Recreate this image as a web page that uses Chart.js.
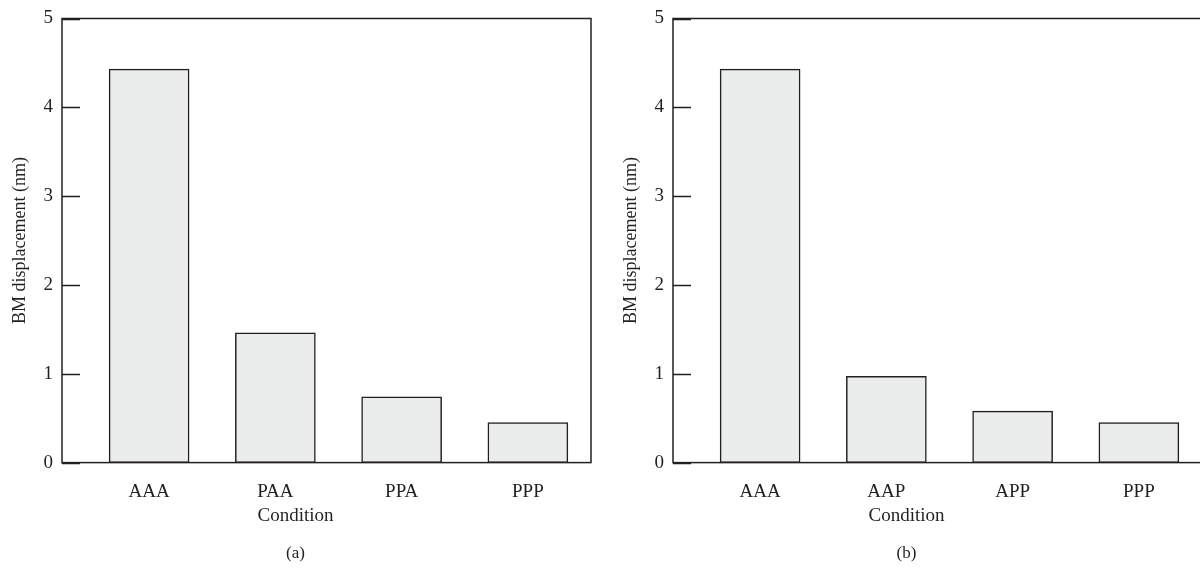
<!DOCTYPE html>
<html>
<head>
<meta charset="utf-8">
<script src="https://cdn.jsdelivr.net/npm/chart.js@4/dist/chart.umd.min.js"></script>
<style>
    html, body { margin: 0; padding: 0; background: #fff; overflow: hidden; }
    body { width: 1200px; height: 568px; position: relative; }
    .panel { position: absolute; top: 0; width: 600px; height: 568px; }
</style>
</head>
<body>
<div class="panel" style="left:0"><canvas id="chartA"></canvas></div>
<div class="panel" style="left:611px"><canvas id="chartB"></canvas></div>
<script>
// Data
const conditionsA = ['AAA', 'PAA', 'PPA', 'PPP'];
const displacementA = [4.43, 1.46, 0.74, 0.45];

const conditionsB = ['AAA', 'AAP', 'APP', 'PPP'];
const displacementB = [4.43, 0.97, 0.58, 0.45];

const yTicks = [0, 1, 2, 3, 4, 5];

const INK = '#231f20';
const FONT = "'Liberation Serif', 'DejaVu Serif', serif";

// Frame around the plotting area plus short inward ticks on the y axis
const framePlugin = {
    id: 'frame',
    afterDatasetsDraw(chart) {
        const { ctx, chartArea: a } = chart;
        const yScale = chart.scales.y;
        ctx.save();
        ctx.strokeStyle = INK;
        ctx.lineWidth = 1.5;
        ctx.strokeRect(a.left, a.top, a.right - a.left, a.bottom - a.top);
        ctx.beginPath();
        yTicks.forEach(v => {
            const py = Math.round(yScale.getPixelForValue(v)) + 0.5;
            ctx.moveTo(a.left, py);
            ctx.lineTo(a.left + 18, py);
        });
        ctx.stroke();
        ctx.restore();
    }
};

function makeChart(id, categories, values, panelLabel) {
    const ctx = document.getElementById(id).getContext('2d');
    return new Chart(ctx, {
        type: 'bar',
        data: {
            datasets: [{
                data: values.map((v, i) => ({ x: i + 1, y: v })),
                backgroundColor: '#ebedec',
                borderColor: INK,
                borderWidth: 1.5,
                borderSkipped: false,
                barThickness: 80
            }]
        },
        options: {
            responsive: false,
            animation: false,
            layout: { padding: { top: 0, right: 9, left: 0, bottom: 0 } },
            plugins: {
                legend: { display: false },
                tooltip: { enabled: false },
                subtitle: {
                    display: true,
                    position: 'bottom',
                    text: 'Condition',
                    color: INK,
                    font: { family: FONT, size: 19, weight: 'normal' },
                    padding: { top: 2, bottom: 15.6 }
                },
                title: {
                    display: true,
                    position: 'bottom',
                    text: panelLabel,
                    color: INK,
                    font: { family: FONT, size: 17, weight: 'normal' },
                    padding: { top: 0, bottom: 4.6 }
                }
            },
            scales: {
                x: {
                    type: 'linear',
                    offset: false,
                    min: 0.31,
                    max: 4.5,
                    afterBuildTicks: (axis) => {
                        axis.ticks = categories.map((c, i) => ({ value: i + 1 }));
                    },
                    afterFit: (axis) => { axis.height = 40; },
                    grid: { display: false },
                    border: { display: false },
                    ticks: {
                        padding: 10,
                        color: INK,
                        font: { family: FONT, size: 19 },
                        callback: (v) => categories[v - 1]
                    }
                },
                y: {
                    min: 0,
                    max: 5,
                    afterBuildTicks: (axis) => {
                        axis.ticks = yTicks.map(v => ({ value: v }));
                    },
                    afterFit: (axis) => { axis.width = 62; },
                    grid: { display: false, drawTicks: false },
                    border: { display: false },
                    ticks: {
                        padding: 9,
                        color: INK,
                        font: { family: FONT, size: 19, lineHeight: 1.0 }
                    },
                    title: {
                        display: true,
                        text: 'BM displacement (nm)',
                        color: INK,
                        font: { family: FONT, size: 18 },
                        padding: { top: 9, bottom: 0 }
                    }
                }
            }
        },
        plugins: [framePlugin]
    });
}

document.getElementById('chartA').width = 600;
document.getElementById('chartA').height = 568;
document.getElementById('chartB').width = 600;
document.getElementById('chartB').height = 568;

makeChart('chartA', conditionsA, displacementA, '(a)');
makeChart('chartB', conditionsB, displacementB, '(b)');
</script>
</body>
</html>
